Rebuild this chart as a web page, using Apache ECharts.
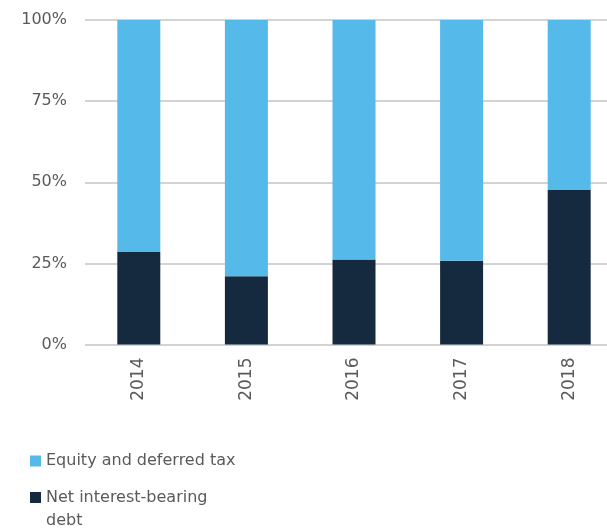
<!DOCTYPE html>
<html>
<head>
<meta charset="utf-8">
<script src="https://cdn.jsdelivr.net/npm/echarts@6/dist/echarts.min.js"></script>
<style>
  html, body { margin: 0; padding: 0; background: #fff; }
  #chart { width: 607px; height: 528px; }
</style>
</head>
<body>
<div id="chart"></div>
<script>
// Capital structure shares by year (percent of total)
const years = ['2014', '2015', '2016', '2017', '2018'];
const netDebt = [28.5, 21.0, 26.2, 25.8, 47.6];
const equity = [71.5, 79.0, 73.8, 74.2, 52.4];
const yTicks = ['0%', '25%', '50%', '75%', '100%'];

const COLOR_EQUITY = '#55B9EA';
const COLOR_DEBT = '#162A3F';
const TEXT = '#5a5a5a';
const FONT = 'DejaVu Sans';

const chart = echarts.init(document.getElementById('chart'), null, { renderer: 'canvas' });

chart.setOption({
  animation: false,
  textStyle: { fontFamily: FONT },
  grid: {
    left: 85, top: 20, width: 538, height: 324.5,
    containLabel: false, outerBoundsMode: 'none'
  },
  xAxis: {
    type: 'category',
    data: years,
    axisLine: { show: false },
    axisTick: { show: false },
    axisLabel: { rotate: 90, margin: 13, color: TEXT, fontSize: 17, fontFamily: FONT }
  },
  yAxis: {
    type: 'value',
    min: 0, max: 100, interval: 25,
    axisLine: { show: false },
    axisTick: { show: false },
    splitLine: { lineStyle: { color: '#c4c4c4', width: 1.5 } },
    axisLabel: {
      margin: 18, color: TEXT, fontSize: 16, fontFamily: FONT,
      formatter: (v) => yTicks[Math.round(v / 25)]
    }
  },
  legend: [
    {
      data: ['Equity and deferred tax'],
      left: 30, top: 450, padding: 0,
      itemWidth: 11, itemHeight: 11, itemGap: 4,
      icon: 'rect',
      textStyle: { color: TEXT, fontSize: 16, fontFamily: FONT, lineHeight: 22 }
    },
    {
      data: ['Net interest-bearing debt'],
      left: 30, top: 463, padding: 0,
      itemWidth: 11, itemHeight: 11,
      icon: 'rect',
      // leading blank line keeps the first text line level with the swatch
      formatter: () => '\nNet interest-bearing\ndebt',
      textStyle: { color: TEXT, fontSize: 16, fontFamily: FONT, lineHeight: 23 }
    }
  ],
  series: [
    {
      name: 'Net interest-bearing debt',
      type: 'bar',
      stack: 'total',
      barWidth: 43,
      data: netDebt,
      itemStyle: { color: COLOR_DEBT }
    },
    {
      name: 'Equity and deferred tax',
      type: 'bar',
      stack: 'total',
      barWidth: 43,
      data: equity,
      itemStyle: { color: COLOR_EQUITY }
    }
  ]
});
</script>
</body>
</html>
